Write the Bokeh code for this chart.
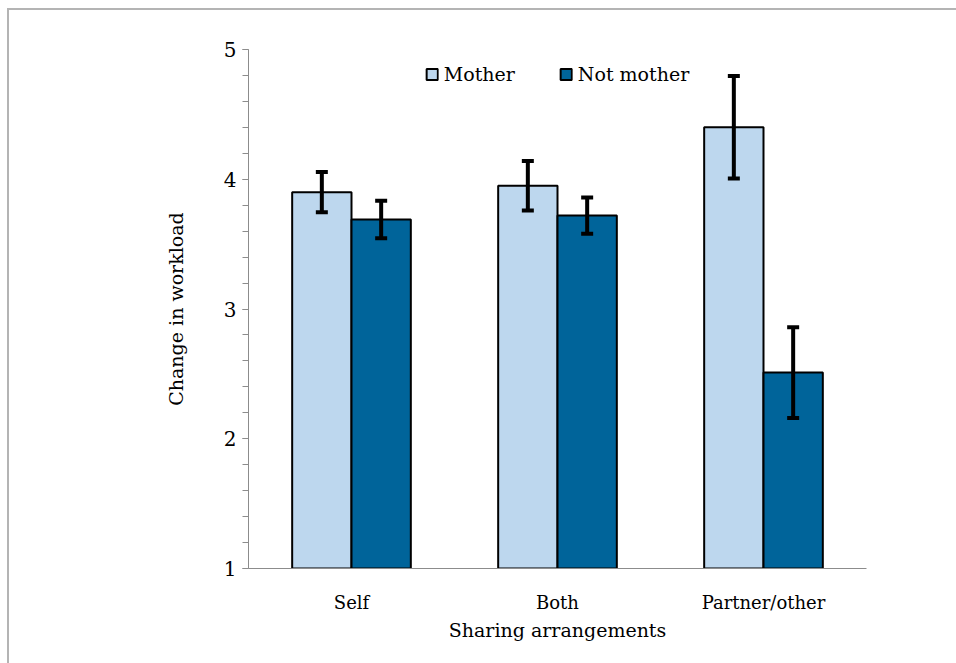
from bokeh.plotting import figure
from bokeh.models import (ColumnDataSource, FactorRange, Range1d, Whisker, TeeHead,
                          SingleIntervalTicker, Legend, LegendItem, InlineStyleSheet)
from bokeh.transform import dodge
from bokeh.embed import file_html
from bokeh.resources import INLINE

# Mean change in workload by sharing arrangement, with error margins
categories = ["Self", "Both", "Partner/other"]
mother = [3.90, 3.95, 4.40]
mother_err = [0.155, 0.19, 0.395]
not_mother = [3.69, 3.72, 2.51]
not_mother_err = [0.145, 0.14, 0.35]
y_ticks = [1, 2, 3, 4, 5]

LIGHT = "#BDD7EE"
DARK = "#00649A"
FONT = "DejaVu Serif"

src = ColumnDataSource(dict(
    cat=categories,
    mother=mother,
    m_lo=[v - e for v, e in zip(mother, mother_err)],
    m_hi=[v + e for v, e in zip(mother, mother_err)],
    not_mother=not_mother,
    n_lo=[v - e for v, e in zip(not_mother, not_mother_err)],
    n_hi=[v + e for v, e in zip(not_mother, not_mother_err)],
))

p = figure(width=956, height=663, output_backend="svg", toolbar_location=None,
           x_range=FactorRange(factors=categories, range_padding=0),
           y_range=Range1d(y_ticks[0], y_ticks[-1]),
           min_border_left=248, min_border_right=90,
           min_border_top=49, min_border_bottom=95)
p.outline_line_color = None
p.xgrid.grid_line_color = None
p.ygrid.grid_line_color = None
p.background_fill_color = "white"
p.border_fill_color = "white"

# thin grey frame along the top and left edges of the figure
p.stylesheets = [InlineStyleSheet(css="""
:host { position: relative; }
:host::after {
  content: ""; position: absolute; left: 7px; top: 8px; right: 0; bottom: 0;
  border-top: 2px solid #b4b4b4; border-left: 2px solid #b4b4b4;
  pointer-events: none;
}
""")]

BW = 0.288
OFF = 0.144
r_m = p.vbar(x=dodge("cat", -OFF, range=p.x_range), top="mother", bottom=1, width=BW,
             source=src, fill_color=LIGHT, line_color="black", line_width=2)
r_n = p.vbar(x=dodge("cat", OFF, range=p.x_range), top="not_mother", bottom=1, width=BW,
             source=src, fill_color=DARK, line_color="black", line_width=2)

for off, lo, hi in [(-OFF, "m_lo", "m_hi"), (OFF, "n_lo", "n_hi")]:
    w = Whisker(source=src, base=dodge("cat", off, range=p.x_range), lower=lo, upper=hi,
                line_color="black", line_width=4, level="overlay",
                upper_head=TeeHead(size=12, line_width=4, line_color="black"),
                lower_head=TeeHead(size=12, line_width=4, line_color="black"))
    p.add_layout(w)

# axes
ya = p.yaxis[0]
ya.ticker = SingleIntervalTicker(interval=1, num_minor_ticks=5)
ya.axis_line_color = "#8c8c8c"
ya.major_tick_line_color = "#8c8c8c"
ya.minor_tick_line_color = "#8c8c8c"
ya.major_tick_in = 0
ya.major_tick_out = 6
ya.minor_tick_in = 0
ya.minor_tick_out = 6
ya.major_label_text_font = FONT
ya.major_label_text_font_size = "20px"
ya.major_label_text_color = "black"
ya.major_label_standoff = 6
ya.axis_label = "Change in workload"
ya.axis_label_text_font = FONT
ya.axis_label_text_font_style = "normal"
ya.axis_label_text_font_size = "19px"
ya.axis_label_text_color = "black"
ya.axis_label_standoff = 34

xa = p.xaxis[0]
xa.axis_line_color = "#8c8c8c"
xa.major_tick_line_color = None
xa.minor_tick_line_color = None
xa.major_label_text_font = FONT
xa.major_label_text_font_size = "18px"
xa.major_label_text_color = "black"
xa.major_label_standoff = 17
xa.axis_label = "Sharing arrangements"
xa.axis_label_text_font = FONT
xa.axis_label_text_font_style = "normal"
xa.axis_label_text_font_size = "19px"
xa.axis_label_text_color = "black"
xa.axis_label_standoff = 3

legend = Legend(items=[LegendItem(label="Mother", renderers=[r_m]),
                       LegendItem(label="Not mother", renderers=[r_n])],
                orientation="horizontal", location="top_center",
                border_line_color=None, background_fill_alpha=0,
                glyph_width=14, glyph_height=14, spacing=44, label_standoff=5,
                label_text_font=FONT, label_text_font_size="19px",
                label_text_color="black",
                margin=14, padding=4)
p.add_layout(legend, "center")

open("out.html", "w").write(file_html(p, INLINE))
